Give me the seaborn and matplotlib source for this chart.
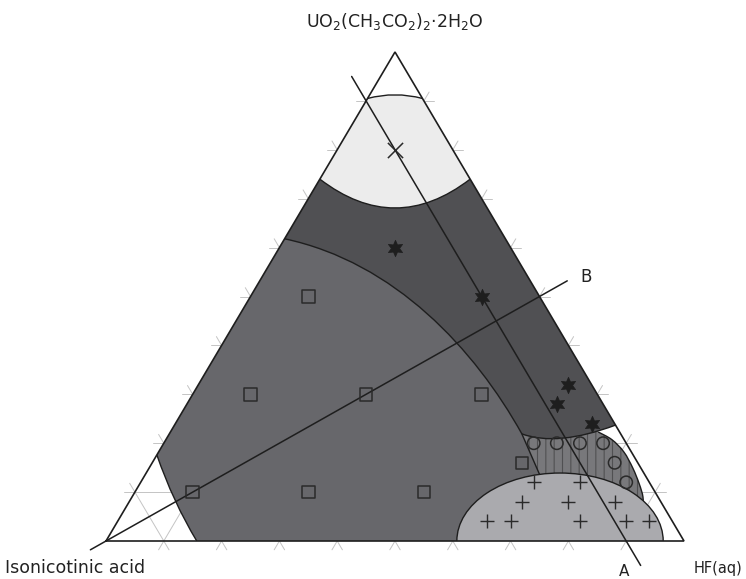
import numpy as np
import matplotlib
matplotlib.use("Agg")
import matplotlib.pyplot as plt
from matplotlib.path import Path
from matplotlib.patches import PathPatch, Ellipse, Polygon
import seaborn as sns
import pandas as pd

# ---------------- data: ternary fractions (isonicotinic acid, HF(aq), UO2 acetate) ----
cross_pts = [(0.10, 0.10, 0.80)]
star_pts = [(0.20, 0.20, 0.60), (0.10, 0.40, 0.50), (0.04, 0.64, 0.32),
            (0.08, 0.64, 0.28), (0.04, 0.72, 0.24)]
square_pts = [(0.40, 0.10, 0.50), (0.60, 0.10, 0.30), (0.40, 0.30, 0.30),
              (0.20, 0.50, 0.30), (0.80, 0.10, 0.10), (0.60, 0.30, 0.10),
              (0.40, 0.50, 0.10), (0.20, 0.64, 0.16)]
circle_pts = [(0.16, 0.64, 0.20), (0.12, 0.68, 0.20), (0.08, 0.72, 0.20),
              (0.04, 0.76, 0.20), (0.04, 0.80, 0.16), (0.04, 0.84, 0.12)]
plus_pts = [(0.20, 0.68, 0.12), (0.12, 0.76, 0.12), (0.24, 0.68, 0.08),
            (0.16, 0.76, 0.08), (0.08, 0.84, 0.08), (0.32, 0.64, 0.04),
            (0.28, 0.68, 0.04), (0.16, 0.80, 0.04), (0.08, 0.88, 0.04),
            (0.04, 0.92, 0.04)]

line_A = [(0.10, -0.05, 0.95), (0.10, 0.95, -0.05)]
line_B = [(1.036, -0.018, -0.018), (-0.064, 0.532, 0.532)]

grid_levels = [0.1, 0.2, 0.3, 0.4, 0.5, 0.6, 0.7, 0.8, 0.9]

vertex_labels = ["Isonicotinic acid", "HF(aq)",
                 r"UO$_2$(CH$_3$CO$_2$)$_2$·2H$_2$O"]

# ---------------- region boundaries (ternary nodes) ----------------
cap_top = [(0.095, 0.0, 0.905), (0.04, 0.04, 0.92), (0.0, 0.095, 0.905)]
cap_bottom = [(0.26, 0.0, 0.74), (0.189, 0.189, 0.622), (0.0, 0.26, 0.74)]
phase_curve = [(0.382, 0.0, 0.618), (0.215, 0.215, 0.570),
               (0.166, 0.443, 0.391), (0.171, 0.610, 0.219)]   # cubic
phase_tail = [(0.171, 0.610, 0.219), (0.182, 0.683, 0.135)]
dark_bottom = [(0.171, 0.610, 0.219), (0.123, 0.6845, 0.1925), (0.0, 0.763, 0.237)]
hatch_right = [(0.037, 0.740, 0.223), (0.021, 0.772, 0.207), (0.013, 0.805, 0.182),
               (0.014, 0.837, 0.149), (0.020, 0.864, 0.117), (0.026, 0.884, 0.090),
               (0.039, 0.897, 0.064)]
hatch_inner = [(0.198, 0.596, 0.206), (0.158, 0.590, 0.252), (0.027, 0.726, 0.247)]
hatch_foot = (0.233, 0.734, 0.033)
corner_curve = [(0.824, 0.0, 0.176), (0.844, 0.076, 0.080), (0.843, 0.157, 0.0)]
medium_foot = (0.30, 0.70, 0.0)
ell_center_b, ell_half_b, ell_half_c = 0.7855, 0.1785, 0.139

S3 = np.sqrt(3) / 2


def xy(pts):
    P = np.atleast_2d(np.asarray(pts, float))
    a, b, c = P[:, 0], P[:, 1], P[:, 2]
    return np.column_stack([b + c / 2, c * S3])


def cr(P):
    n = len(P)
    verts, codes = [], []
    for i in range(n - 1):
        p0 = P[i - 1] if i > 0 else P[i]
        p1, p2 = P[i], P[i + 1]
        p3 = P[i + 2] if i + 2 < n else P[i + 1]
        verts += [p1 + (p2 - p0) / 6, p2 - (p3 - p1) / 6, p2]
        codes += [Path.CURVE4] * 3
    return verts, codes


def build(pieces, close=True):
    verts, codes = [], []
    for kind, pts in pieces:
        P = xy(pts)
        if not verts:
            verts.append(P[0]); codes.append(Path.MOVETO)
        else:
            verts.append(P[0]); codes.append(Path.LINETO)
        if kind == 'line':
            for q in P[1:]:
                verts.append(q); codes.append(Path.LINETO)
        elif kind == 'quad':
            verts += [P[1], P[2]]; codes += [Path.CURVE3] * 2
        elif kind == 'cubic':
            verts += [P[1], P[2], P[3]]; codes += [Path.CURVE4] * 3
        else:
            v, c = cr(P); verts += v; codes += c
    if close:
        verts.append(verts[0]); codes.append(Path.CLOSEPOLY)
    return Path(np.array(verts), codes)


# ---------------- figure ----------------
sns.set_style("white")
plt.rcParams['font.family'] = ['DejaVu Sans']
plt.rcParams['mathtext.fontset'] = 'dejavusans'
plt.rcParams['mathtext.default'] = 'regular'
plt.rcParams['hatch.linewidth'] = 0.8

W, H = 746, 579
fig = plt.figure(figsize=(W / 100, H / 100), dpi=100)
ax = fig.add_axes([0, 0, 1, 1])
sx, sy = 578.0, 489.0 / S3
x0, yb = 106.0, 541.0
ax.set_xlim(-x0 / sx, (W - x0) / sx)
ax.set_ylim((yb - H) / sy, yb / sy)
ax.axis('off')

tri_xy = xy([(1, 0, 0), (0, 1, 0), (0, 0, 1)])
tri = Polygon(tri_xy, closed=True, facecolor='none', edgecolor='none')
ax.add_patch(tri)

# grid lines with tick extensions
ext = 0.018
for k in grid_levels:
    for seg in ([(k, 1 - k, 0), (k, 0, 1 - k)],
                [(1 - k, k, 0), (0, k, 1 - k)],
                [(1 - k, 0, k), (0, 1 - k, k)]):
        P = xy(seg)
        d = (P[1] - P[0]) / np.linalg.norm(P[1] - P[0])
        P = np.array([P[0] - d * ext, P[1] + d * ext])
        ax.plot(P[:, 0], P[:, 1], color='#c4c4c4', lw=0.7, zorder=1)

DARK = '#505053'
MED = '#67676b'
HATCH = '#78787b'
CAP = '#ececec'
ELL = '#aaaaae'
LINE = '#1e1e1e'

regions = [
    (build([('line', hatch_inner), ('smooth', hatch_right),
            ('line', [hatch_right[-1], hatch_foot])]), HATCH, 2, '||'),
    (build([('line', [phase_curve[0], cap_bottom[0], cap_bottom[2], dark_bottom[2]]),
            ('quad', dark_bottom[::-1]),
            ('line', [phase_curve[3], phase_curve[0]])]), DARK, 3, None),
    (build([('line', [phase_curve[0], corner_curve[0]]), ('quad', corner_curve),
            ('line', [corner_curve[2], medium_foot, phase_tail[1], phase_tail[0]]),
            ('cubic', phase_curve[::-1])]), MED, 4, None),
    (build([('line', [cap_bottom[0], cap_top[0]]), ('quad', cap_top),
            ('line', [cap_top[2], cap_bottom[2]]), ('quad', cap_bottom[::-1])]), CAP, 5, None),
]
for path, col, z, hatch in regions:
    if hatch:
        p = PathPatch(path, facecolor=col, edgecolor='#505052', lw=0, hatch=hatch, zorder=z)
    else:
        p = PathPatch(path, facecolor=col, edgecolor='none', lw=0, zorder=z)
    p.set_clip_path(tri)
    ax.add_patch(p)

# region outlines
outline = build([('cubic', phase_curve), ('line', phase_tail)], close=False)
p = PathPatch(outline, facecolor='none', edgecolor=LINE, lw=1.0, zorder=5.5,
              joinstyle='round')
ax.add_patch(p)
for kind, pts in [('quad', cap_top), ('quad', cap_bottom), ('quad', dark_bottom),
                  ('smooth', hatch_right), ('quad', corner_curve)]:
    p = PathPatch(build([(kind, pts)], close=False), facecolor='none',
                  edgecolor=LINE, lw=1.0, zorder=5.5)
    p.set_clip_path(tri)
    ax.add_patch(p)

ec = xy([(1 - ell_center_b, ell_center_b, 0)])[0]
ell = Ellipse(ec, width=2 * ell_half_b, height=2 * ell_half_c * S3,
              facecolor=ELL, edgecolor=LINE, lw=1.0, zorder=6)
ell.set_clip_path(tri)
ax.add_patch(ell)

# triangle edges
T = np.vstack([tri_xy, tri_xy[:1]])
ax.plot(T[:, 0], T[:, 1], color=LINE, lw=1.2, zorder=7, solid_joinstyle='miter')

# lines A and B
for ln in (line_A, line_B):
    P = xy(ln)
    ax.plot(P[:, 0], P[:, 1], color=LINE, lw=1.1, zorder=8)

# markers
def frame(pts):
    P = xy(pts)
    return pd.DataFrame({'x': P[:, 0], 'y': P[:, 1]})

sns.scatterplot(data=frame(square_pts), x='x', y='y', marker='s', s=80,
                facecolor='none', edgecolor='#2a2a2a', linewidth=1.1, ax=ax, zorder=9)
sns.scatterplot(data=frame(circle_pts), x='x', y='y', marker='o', s=80,
                facecolor='none', edgecolor='#2a2a2a', linewidth=1.1, ax=ax, zorder=9)
sns.scatterplot(data=frame(plus_pts), x='x', y='y', marker='+', s=90,
                color='#2a2a2a', linewidth=1.0, ax=ax, zorder=9)
sns.scatterplot(data=frame(cross_pts), x='x', y='y', marker='x', s=120,
                color='#2a2a2a', linewidth=1.1, ax=ax, zorder=9)
sns.scatterplot(data=frame(star_pts), x='x', y='y', marker=(6, 1, 0), s=140,
                color='#1e1e1e', edgecolor='#1e1e1e', linewidth=0.5, ax=ax, zorder=9)
ax.set_xlabel(''); ax.set_ylabel('')

# labels
fig.text(5 / W, 1 - 568 / H, vertex_labels[0], ha='left', va='center', fontsize=12.5, color='#222222')
fig.text(694 / W, 1 - 568 / H, vertex_labels[1], ha='left', va='center', fontsize=10.5, color='#222222')
fig.text(395 / W, 1 - 21 / H, vertex_labels[2], ha='center', va='center', fontsize=12.5, color='#222222')
fig.text(624 / W, 1 - 572 / H, 'A', ha='center', va='center', fontsize=11, color='#222222')
pB = xy(line_B)[1]
ax.text(pB[0] + 0.033, pB[1] + 0.006, 'B', ha='center', va='center', fontsize=12, color='#222222')

fig.savefig('out.png', dpi=100)
